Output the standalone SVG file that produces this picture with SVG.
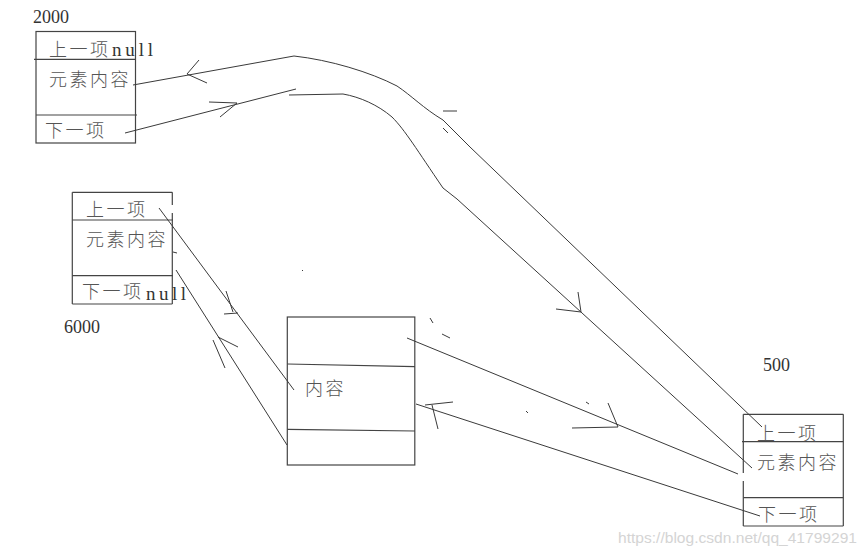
<svg xmlns="http://www.w3.org/2000/svg" width="867" height="554" viewBox="0 0 867 554">
<style>
.box{fill:none;stroke:#444;stroke-width:1.2}
.ln{fill:none;stroke:#3a3a3a;stroke-width:1}
.cjk{font-family:"Noto Sans CJK SC","Noto Sans CJK JP",sans-serif;font-size:18px;font-weight:300;letter-spacing:2.5px;fill:#555}
.num{font-family:"Liberation Serif",serif;font-size:18px;fill:#333}
.nl{font-family:"Liberation Serif",serif;font-size:19px;fill:#333}
.wm{font-family:"Liberation Sans",sans-serif;font-size:15px;fill:#d4d4d4}
</style>
<rect width="867" height="554" fill="#fff"/>

<g id="node-2000">
  <rect class="box" x="36" y="31.5" width="99.5" height="111.5"/>
  <line class="box" x1="34" y1="59.3" x2="136" y2="59.3"/>
  <line class="box" x1="36" y1="115" x2="137" y2="115"/>
  <text class="num" x="33" y="23">2000</text>
  <text class="cjk" x="49" y="56">上一项</text>
  <text class="nl" x="112" y="56" textLength="41" lengthAdjust="spacing">null</text>
  <text class="cjk" x="49" y="86">元素内容</text>
  <text class="cjk" x="45" y="137">下一项</text>
</g>

<g id="node-6000">
  <line class="box" x1="72.3" y1="192.3" x2="172.3" y2="192.3"/>
  <line class="box" x1="72.3" y1="192.3" x2="72.3" y2="304"/>
  <line class="box" x1="72.3" y1="304" x2="172.3" y2="304"/>
  <line class="box" x1="172.3" y1="192.3" x2="172.3" y2="205"/>
  <line class="box" x1="172.3" y1="213" x2="172.3" y2="304"/>
  <line class="box" x1="72.3" y1="220" x2="173" y2="220"/>
  <line class="box" x1="72.3" y1="275.7" x2="173" y2="275.7"/>
  <text class="cjk" x="86" y="216">上一项</text>
  <text class="cjk" x="86" y="246">元素内容</text>
  <text class="cjk" x="82" y="298">下一项</text>
  <text class="nl" x="146" y="300" textLength="40" lengthAdjust="spacing">null</text>
  <text class="num" x="64" y="333">6000</text>
</g>

<g id="node-center">
  <rect class="box" x="287.3" y="317" width="127.5" height="148"/>
  <line class="box" x1="287.3" y1="364" x2="415" y2="366.7"/>
  <line class="box" x1="287.3" y1="429.3" x2="415" y2="431"/>
  <text class="cjk" x="305" y="395">内容</text>
</g>

<g id="node-500">
  <line class="box" x1="743.3" y1="414.3" x2="843.3" y2="414.3"/>
  <line class="box" x1="843.3" y1="414.3" x2="843.3" y2="526"/>
  <line class="box" x1="743.3" y1="526" x2="843.3" y2="526"/>
  <line class="box" x1="743.3" y1="414.3" x2="743.3" y2="473"/>
  <line class="box" x1="743.3" y1="481" x2="743.3" y2="526"/>
  <line class="box" x1="742" y1="441.7" x2="843.3" y2="441.7"/>
  <line class="box" x1="743.3" y1="497.7" x2="843.3" y2="497.7"/>
  <text class="num" x="763" y="371">500</text>
  <text class="cjk" x="757" y="440">上一项</text>
  <text class="cjk" x="757" y="469">元素内容</text>
  <text class="cjk" x="758" y="521">下一项</text>
</g>

<g id="connectors">
  <path class="ln" d="M133 85 L294 56 C330 60 370 72 397 86 C412 96 423 108 443 120 L470 147 L762 427"/>
  <path class="ln" d="M199 60 L187 74 L207 83"/>
  <path class="ln" d="M125 133 L296 89"/>
  <path class="ln" d="M209 102 L237 103 L220 117"/>
  <path class="ln" d="M289 95 L343 94 C360 97 378 105 392 117 C405 130 417 150 443 188 L457 199 L752 468"/>
  <path class="ln" d="M578 292 L581 312 L556 309"/>
  <path class="ln" d="M407 338 L738 474"/>
  <path class="ln" d="M608 403 L618 427 L572 428"/>
  <path class="ln" d="M760 516 L416 404"/>
  <path class="ln" d="M453 402 L425 405 M432 405 L438 429"/>
  <path class="ln" d="M159 208 L294 390"/>
  <path class="ln" d="M226 291 L233 312 M224 314 L238 313"/>
  <path class="ln" d="M287 445 L176 270"/>
  <path class="ln" d="M238 347 L218 337 M213 340 L225 368"/>
  <path class="ln" d="M443 111 L457 111 M443 128 L448 133 M430 318 L433 323 M442 334 L450 338 M173 252 L177 253 M526 411 L528 413 M586 402 L589 404 M302 270 L303 271"/>
</g>

<text class="wm" x="618" y="543" textLength="239" lengthAdjust="spacingAndGlyphs">https://blog.csdn.net/qq_41799291</text>
</svg>
